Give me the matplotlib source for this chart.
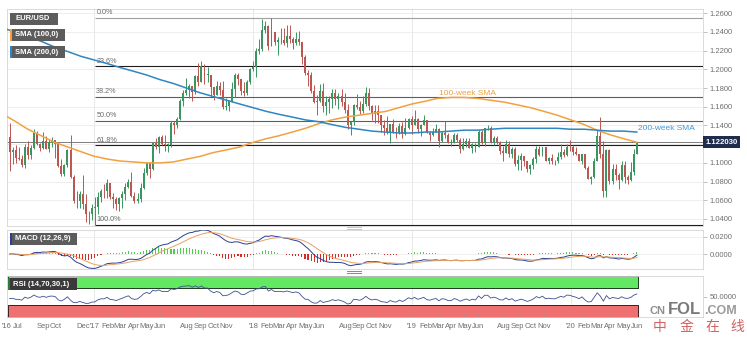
# -*- coding: utf-8 -*-
"""
EUR/USD weekly chart: candles + 100/200-week SMA + Fibonacci, MACD and RSI panels.
Output: out.png (747x338)
"""
import numpy as np
import pandas as pd
import matplotlib
matplotlib.use("Agg")
import matplotlib.pyplot as plt
import matplotlib.dates as mdates
from matplotlib.patches import Rectangle
from matplotlib.transforms import blended_transform_factory

plt.rcParams["font.family"] = ["Liberation Sans", "DejaVu Sans"]

W, H = 747, 338

# ---- weekly data, first week 2016-06-20 ----
first_open = 1.1275
close = [
    # 2016
    1.1115, 1.1136, 1.1052, 1.1042, 1.0976, 1.1174, 1.1086, 1.1161, 1.1325, 1.1198,
    1.1155, 1.1233, 1.1153, 1.1224, 1.1240, 1.1200, 1.0970, 1.0880, 1.0980, 1.1138,
    1.0850, 1.0590, 1.0590, 1.0665, 1.0560, 1.0450, 1.0455, 1.0520,
    # 2017
    1.0530, 1.0640, 1.0700, 1.0695, 1.0780, 1.0640, 1.0615, 1.0560, 1.0620, 1.0670,
    1.0740, 1.0800, 1.0650, 1.0590, 1.0615, 1.0730, 1.0895, 1.0995, 1.0930, 1.1210,
    1.1170, 1.1280, 1.1200, 1.1195, 1.1195, 1.1425, 1.1400, 1.1470, 1.1665, 1.1750,
    1.1775, 1.1820, 1.1760, 1.1925, 1.1860, 1.2035, 1.1945, 1.1945, 1.1815, 1.1730,
    1.1820, 1.1780, 1.1600, 1.1610, 1.1665, 1.1795, 1.1935, 1.1895, 1.1770, 1.1750,
    1.1860, 1.2005,
    # 2018
    1.2030, 1.2200, 1.2220, 1.2425, 1.2460, 1.2250, 1.2405, 1.2295, 1.2310, 1.2310,
    1.2285, 1.2355, 1.2320, 1.2280, 1.2330, 1.2290, 1.2130, 1.1960, 1.1940, 1.1770,
    1.1650, 1.1660, 1.1770, 1.1610, 1.1655, 1.1680, 1.1745, 1.1685, 1.1720, 1.1655,
    1.1570, 1.1410, 1.1440, 1.1620, 1.1600, 1.1555, 1.1625, 1.1750, 1.1605, 1.1525,
    1.1560, 1.1510, 1.1400, 1.1375, 1.1335, 1.1415, 1.1335, 1.1315, 1.1390, 1.1305,
    1.1370, 1.1465,
    # 2019
    1.1400, 1.1470, 1.1365, 1.1405, 1.1455, 1.1325, 1.1295, 1.1335, 1.1365, 1.1235,
    1.1325, 1.1300, 1.1215, 1.1215, 1.1295, 1.1245, 1.1150, 1.1200, 1.1235, 1.1160,
    1.1205, 1.1170, 1.1335, 1.1210, 1.1370, 1.1370, 1.1225, 1.1270, 1.1220, 1.1125,
    1.1110, 1.1200, 1.1090, 1.1145, 1.0990, 1.1030, 1.1075, 1.1015, 1.0940, 1.0975,
    1.1040, 1.1145, 1.1080, 1.1165, 1.1020, 1.1050, 1.1020, 1.1015, 1.1060, 1.1120,
    1.1080, 1.1175,
    # 2020
    1.1165, 1.1120, 1.1090, 1.1025, 1.1095, 1.0945, 1.0830, 1.0845, 1.1025, 1.1285,
    1.1100, 1.0695, 1.1140, 1.0805, 1.0935, 1.0875, 1.0820, 1.0980, 1.0845, 1.0820,
    1.0900, 1.1100, 1.12203,
]
high = [
    1.1428, 1.1165, 1.1187, 1.1165, 1.1080, 1.1200, 1.1235, 1.1189, 1.1366, 1.1343,
    1.1211, 1.1327, 1.1284, 1.1259, 1.1278, 1.1250, 1.1205, 1.1040, 1.0990, 1.1145,
    1.1300, 1.0870, 1.0700, 1.0700, 1.0875, 1.0670, 1.0490, 1.0560,
    1.0630, 1.0685, 1.0720, 1.0775, 1.0830, 1.0790, 1.0680, 1.0630, 1.0640, 1.0700,
    1.0780, 1.0830, 1.0900, 1.0690, 1.0680, 1.0780, 1.0950, 1.1000, 1.0980, 1.1215,
    1.1270, 1.1285, 1.1300, 1.1295, 1.1215, 1.1445, 1.1445, 1.1490, 1.1680, 1.1775,
    1.1910, 1.1845, 1.1800, 1.1940, 1.2070, 1.2090, 1.2060, 1.2030, 1.1945, 1.1790,
    1.1880, 1.1860, 1.1880, 1.1690, 1.1670, 1.1860, 1.1960, 1.1960, 1.1890, 1.1860,
    1.1890, 1.2020,
    1.2090, 1.2230, 1.2325, 1.2535, 1.2520, 1.2470, 1.2555, 1.2400, 1.2350, 1.2445,
    1.2445, 1.2475, 1.2475, 1.2345, 1.2395, 1.2415, 1.2295, 1.2150, 1.1995, 1.1970,
    1.1830, 1.1730, 1.1840, 1.1850, 1.1720, 1.1720, 1.1790, 1.1790, 1.1750, 1.1790,
    1.1745, 1.1630, 1.1445, 1.1625, 1.1735, 1.1660, 1.1720, 1.1815, 1.1800, 1.1620,
    1.1620, 1.1620, 1.1500, 1.1455, 1.1500, 1.1420, 1.1470, 1.1385, 1.1425, 1.1440,
    1.1485, 1.1480,
    1.1500, 1.1570, 1.1475, 1.1420, 1.1515, 1.1460, 1.1340, 1.1370, 1.1420, 1.1375,
    1.1340, 1.1450, 1.1325, 1.1255, 1.1325, 1.1325, 1.1265, 1.1265, 1.1265, 1.1265,
    1.1215, 1.1215, 1.1350, 1.1350, 1.1375, 1.1410, 1.1395, 1.1285, 1.1285, 1.1230,
    1.1185, 1.1250, 1.1235, 1.1165, 1.1165, 1.1085, 1.1110, 1.1075, 1.1025, 1.0990,
    1.1060, 1.1180, 1.1180, 1.1175, 1.1175, 1.1065, 1.1095, 1.1030, 1.1115, 1.1200,
    1.1150, 1.1200,
    1.1240, 1.1190, 1.1170, 1.1100, 1.1100, 1.1095, 1.0965, 1.0865, 1.1055, 1.1355,
    1.1495, 1.1235, 1.1150, 1.1150, 1.0990, 1.0990, 1.0890, 1.1020, 1.1020, 1.0875,
    1.1010, 1.1145, 1.1225,
]
low = [
    1.0912, 1.0990, 1.1000, 1.1030, 1.0952, 1.0950, 1.1045, 1.1045, 1.1150, 1.1190,
    1.1123, 1.1150, 1.1150, 1.1120, 1.1165, 1.1050, 1.0960, 1.0860, 1.0860, 1.0960,
    1.0840, 1.0570, 1.0520, 1.0520, 1.0505, 1.0366, 1.0350, 1.0390,
    1.0340, 1.0450, 1.0580, 1.0620, 1.0620, 1.0610, 1.0520, 1.0495, 1.0490, 1.0520,
    1.0600, 1.0730, 1.0640, 1.0570, 1.0570, 1.0580, 1.0725, 1.0870, 1.0840, 1.0920,
    1.1150, 1.1110, 1.1190, 1.1130, 1.1120, 1.1170, 1.1310, 1.1370, 1.1460, 1.1610,
    1.1730, 1.1690, 1.1660, 1.1740, 1.1820, 1.1880, 1.1840, 1.1860, 1.1715, 1.1670,
    1.1730, 1.1730, 1.1575, 1.1570, 1.1555, 1.1650, 1.1710, 1.1830, 1.1730, 1.1715,
    1.1730, 1.1840,
    1.1980, 1.1920, 1.2160, 1.2200, 1.2390, 1.2205, 1.2260, 1.2260, 1.2155, 1.2270,
    1.2260, 1.2240, 1.2280, 1.2215, 1.2260, 1.2260, 1.2055, 1.1940, 1.1820, 1.1750,
    1.1645, 1.1510, 1.1650, 1.1540, 1.1510, 1.1530, 1.1590, 1.1620, 1.1575, 1.1610,
    1.1530, 1.1365, 1.1300, 1.1400, 1.1580, 1.1525, 1.1530, 1.1610, 1.1570, 1.1460,
    1.1430, 1.1430, 1.1335, 1.1300, 1.1310, 1.1215, 1.1320, 1.1270, 1.1310, 1.1270,
    1.1300, 1.1360,
    1.1310, 1.1410, 1.1320, 1.1290, 1.1400, 1.1320, 1.1235, 1.1290, 1.1330, 1.1175,
    1.1220, 1.1270, 1.1210, 1.1180, 1.1210, 1.1225, 1.1110, 1.1135, 1.1175, 1.1155,
    1.1105, 1.1115, 1.1165, 1.1200, 1.1180, 1.1350, 1.1210, 1.1195, 1.1200, 1.1100,
    1.1025, 1.1105, 1.1065, 1.1050, 1.0965, 1.0925, 1.0925, 1.0965, 1.0905, 1.0880,
    1.0940, 1.0995, 1.1075, 1.1070, 1.1015, 1.0990, 1.0990, 1.0980, 1.1000, 1.1040,
    1.1065, 1.1070,
    1.1125, 1.1085, 1.1085, 1.1020, 1.0990, 1.0940, 1.0825, 1.0775, 1.0840, 1.1020,
    1.1055, 1.0635, 1.0640, 1.0770, 1.0770, 1.0815, 1.0725, 1.0810, 1.0780, 1.0775,
    1.0810, 1.0870, 1.1095,
]

# 100/200-week SMA, read at month starts (Jun 2016 .. Jun 2020)
sma_start = "2016-06-01"
sma100 = [
    1.153, 1.145, 1.136, 1.129, 1.122, 1.117, 1.112, 1.107, 1.104, 1.102,
    1.101, 1.100, 1.100, 1.101, 1.104, 1.107, 1.111, 1.114, 1.117, 1.122,
    1.126, 1.129, 1.133, 1.137, 1.142, 1.146, 1.149, 1.151, 1.153, 1.155,
    1.159, 1.163, 1.166, 1.169, 1.170, 1.170, 1.169, 1.167, 1.165, 1.162,
    1.159, 1.155, 1.151, 1.146, 1.141, 1.135, 1.130, 1.126, 1.122,
]
sma200 = [
    1.245, 1.240, 1.235, 1.230, 1.224, 1.219, 1.214, 1.210, 1.206, 1.202,
    1.198, 1.194, 1.189, 1.185, 1.180, 1.175, 1.171, 1.167, 1.163, 1.159,
    1.155, 1.152, 1.149, 1.146, 1.144, 1.141, 1.138, 1.136, 1.134, 1.133,
    1.132, 1.132, 1.133, 1.133, 1.134, 1.135, 1.135, 1.136, 1.137, 1.137,
    1.137, 1.137, 1.137, 1.136, 1.136, 1.135, 1.134, 1.134, 1.133,
]

# Fibonacci retracement between the Jan-2017 low and Feb-2018 high
fib_low, fib_high = 1.0340, 1.2555
fib_start = "2017-01-02"
fib_ratios = [0.0, 0.236, 0.382, 0.5, 0.618, 1.0]
fib_labels = ["0.0%", "23.6%", "38.2%", "50.0%", "61.8%", "100.0%"]
fib_colors = ["#a0a0a0", "#1e1e1e", "#5e5e5e", "#5e5e5e", "#1e1e1e", "#1e1e1e"]

# RSI warm-up: average weekly gain / loss before the first bar
rsi_seed_gain, rsi_seed_loss = 0.0060, 0.0062

tick_dates = [
    "2016-06-14", "2016-07-08", "2016-09-05", "2016-10-03", "2016-12-05",
    "2017-01-02", "2017-02-01", "2017-03-01", "2017-04-01", "2017-05-01", "2017-06-01",
    "2017-08-01", "2017-09-01", "2017-10-01", "2017-11-01",
    "2018-01-01", "2018-02-01", "2018-03-01", "2018-04-01", "2018-05-01", "2018-06-01",
    "2018-08-01", "2018-09-01", "2018-10-01", "2018-11-01",
    "2019-01-01", "2019-02-01", "2019-03-01", "2019-04-01", "2019-05-01", "2019-06-01",
    "2019-08-01", "2019-09-01", "2019-10-01", "2019-11-01",
    "2020-01-01", "2020-02-01", "2020-03-01", "2020-04-01", "2020-05-01", "2020-06-01",
]
tick_labels = [
    "'16", "Jul", "Sep", "Oct", "Dec",
    "'17", "Feb", "Mar", "Apr", "May", "Jun", "Aug", "Sep", "Oct", "Nov",
    "'18", "Feb", "Mar", "Apr", "May", "Jun", "Aug", "Sep", "Oct", "Nov",
    "'19", "Feb", "Mar", "Apr", "May", "Jun", "Aug", "Sep", "Oct", "Nov",
    "'20", "Feb", "Mar", "Apr", "May", "Jun",
]

# ---- derived series ----
c = pd.Series(close)
o = pd.Series([first_open] + close[:-1])
dates = pd.date_range("2016-06-20", periods=len(close), freq="7D")
x = mdates.date2num(dates)

ema12 = c.ewm(span=12, adjust=False).mean()
ema26 = c.ewm(span=26, adjust=False).mean()
macd = ema12 - ema26
signal = macd.ewm(span=9, adjust=False).mean()
hist = macd - signal

# Wilder RSI(14)
diff = np.diff(np.r_[first_open, close])
ag, al = rsi_seed_gain, rsi_seed_loss
rsi = []
for d in diff:
    ag = (ag * 13 + max(d, 0)) / 14
    al = (al * 13 + max(-d, 0)) / 14
    rsi.append(100 - 100 / (1 + ag / al))
rsi = np.array(rsi)

sma_dates = mdates.date2num(pd.date_range(sma_start, periods=len(sma100), freq="MS"))


def px(x0, y0, x1, y1):
    return [x0 / W, 1 - y1 / H, (x1 - x0) / W, (y1 - y0) / H]


fig = plt.figure(figsize=(W / 100, H / 100), dpi=100)
ax = fig.add_axes(px(7, 9, 703, 226))
ax_m = fig.add_axes(px(7, 230, 703, 269), sharex=ax)
ax_r = fig.add_axes(px(7, 276, 703, 317), sharex=ax)

xmin = mdates.date2num(pd.Timestamp("2016-06-17"))
xmax = mdates.date2num(pd.Timestamp("2020-10-31"))
year_lines = mdates.date2num(pd.to_datetime(["2017-01-01", "2018-01-01", "2019-01-01", "2020-01-01"]))

for a in (ax, ax_m, ax_r):
    for s in a.spines.values():
        s.set_color("#d4d4d4")
        s.set_linewidth(0.6)
    a.yaxis.tick_right()
    a.tick_params(axis="y", length=3, width=0.5, color="#aaaaaa", labelsize=5.5,
                  labelcolor="#6e6e6e", pad=2)
    for yl in year_lines:
        a.axvline(yl, color="#e4e4e4", lw=0.6, zorder=0)

# ---- price panel ----
ax.set_ylim(1.0325, 1.2646)
yt = np.round(np.arange(1.04, 1.2601, 0.02), 2)
ax.set_yticks(yt)
ax.set_yticklabels(["" if abs(v - 1.12) < 1e-9 else f"{v:.4f}" for v in yt])
ax.grid(axis="y", color="#ebebeb", lw=0.6, zorder=0)
ax.tick_params(axis="x", length=0, labelbottom=False)

# candles
up = c >= o
col = np.where(up, "#3a9560", "#bb5750")
lo_w = np.minimum.reduce([np.array(low), o.values, c.values])
hi_w = np.maximum.reduce([np.array(high), o.values, c.values])
ax.vlines(x, lo_w, hi_w, colors=col, lw=0.7, zorder=3)
body_lo = np.minimum(o, c)
body_h = np.maximum(np.abs(c - o), 0.0004)
ax.bar(x, body_h, bottom=body_lo, width=4.5, color=col, lw=0, zorder=4)

ax.plot(sma_dates, sma100, color="#f2a13e", lw=1.1, zorder=5)
ax.plot(sma_dates, sma200, color="#2f86c0", lw=1.1, zorder=5)

fx0 = mdates.date2num(pd.Timestamp(fib_start))
for r, lab, fc in zip(fib_ratios, fib_labels, fib_colors):
    lvl = fib_high - r * (fib_high - fib_low)
    ax.hlines(lvl, fx0, xmax, color=fc, lw=0.8, zorder=2)
    ax.annotate(lab, (fx0, lvl), xytext=(1, 1.2), textcoords="offset points",
                fontsize=5.2, color="#6a6a6a", va="bottom", ha="left")

last = close[-1]
ax.axhline(last, color="#4a4a4a", lw=0.5, zorder=2)
tr = blended_transform_factory(ax.transAxes, ax.transData)
ax.text(1.004, last, f"{last:.6f}", transform=tr, fontsize=5.6, fontweight="bold",
        color="white", va="center", ha="left", zorder=10, clip_on=False,
        bbox=dict(boxstyle="square,pad=0.3", fc="#1f2c4c", ec="none"))

ax.text(mdates.date2num(pd.Timestamp("2019-03-04")), 1.1745, "100-week SMA",
        fontsize=6, color="#eea23f", va="center", ha="left", zorder=6)
ax.text(mdates.date2num(pd.Timestamp("2020-06-03")), 1.1372, "200-week SMA",
        fontsize=6, color="#3d9bd8", va="center", ha="left", zorder=6)

# ---- MACD panel ----
ax_m.set_ylim(-0.0176, 0.0282)
ax_m.set_yticks([0.0, 0.02])
ax_m.set_yticklabels(["0.0000", "0.0200"])
ax_m.grid(axis="y", color="#ededed", lw=0.6, zorder=0)
ax_m.tick_params(axis="x", length=0, labelbottom=False)
ax_m.bar(x, hist, width=2.5, color=np.where(hist >= 0, "#49d149", "#d62a22"), lw=0, zorder=2)
ax_m.plot(x, macd, color="#2b3f91", lw=0.7, zorder=3)
ax_m.plot(x, signal, color="#e8a062", lw=0.7, zorder=3)

# ---- RSI panel ----
ax_r.set_ylim(-1, 101)
ax_r.set_yticks([50])
ax_r.set_yticklabels(["50.0000"])
band_x = [x[0] - 4, x[-1] + 1.5]
ax_r.fill_between(band_x, 70, 100, color="#62e862", ec="#1f3a1f", lw=0.7, zorder=1)
ax_r.fill_between(band_x, 0, 30, color="#ef7070", ec="#3a1f1f", lw=0.7, zorder=1)
ax_r.plot(x, rsi, color="#3b4f93", lw=0.6, zorder=3)

ax_r.set_xlim(xmin, xmax)
ax_r.set_xticks(mdates.date2num(pd.to_datetime(tick_dates)))
ax_r.set_xticklabels(tick_labels)
ax_r.tick_params(axis="x", direction="in", length=2, width=0.5, color="#999999",
                 labelsize=5.5, labelcolor="#6e6e6e", pad=4)


# ---- legend boxes ----
def tag(x0, y0, x1, y1, text, stripe=None, fc="#5c5c5c"):
    fig.add_artist(Rectangle(px(x0, y0, x1, y1)[:2], (x1 - x0) / W, (y1 - y0) / H,
                             transform=fig.transFigure, fc=fc, ec="none", zorder=20))
    if stripe:
        fig.add_artist(Rectangle(px(x0, y0, x0 + 2, y1)[:2], 2 / W, (y1 - y0) / H,
                                 transform=fig.transFigure, fc=stripe, ec="none", zorder=21))
    fig.text((x0 + 5) / W, 1 - (y0 + y1) / 2 / H, text, fontsize=5.5, fontweight="bold",
             color="white", va="center", ha="left", zorder=22)


tag(10, 13, 58, 25, "EUR/USD")
tag(10, 29, 65, 41, "SMA (100,0)", stripe="#f2a13e")
tag(10, 46, 65, 58, "SMA (200,0)", stripe="#2f86c0")
tag(10, 233, 77, 245, "MACD (12,26,9)", stripe="#2b3f91")
tag(8, 278, 77, 290, "RSI (14,70,30,1)", stripe="#2e7d32", fc="#3a3a3a")

# panel drag handles
for hy, hc in ((227, "#c8c8c8"), (271, "#8c8c8c")):
    fig.add_artist(Rectangle(px(347, hy, 362, hy + 1)[:2], 15 / W, 1 / H,
                             transform=fig.transFigure, fc=hc, ec="none"))
    fig.add_artist(Rectangle(px(347, hy + 2, 362, hy + 3)[:2], 15 / W, 1 / H,
                             transform=fig.transFigure, fc=hc, ec="none"))

# watermark
fig.text(650 / W, 1 - 311 / H, "CN", fontsize=8, fontweight="bold", color="#8e8e8e", va="center")
fig.text(668 / W, 1 - 309 / H, "FOL", fontsize=12, fontweight="bold", color="#7a7a7a", va="center")
fig.text(704 / W, 1 - 311 / H, ".COM", fontsize=9, fontweight="bold", color="#9a9a9a", va="center")
for cx, ch in zip([660, 687, 712, 737], "中金在线"):
    fig.text(cx / W, 1 - 327 / H, ch, fontsize=10, color="#c84646", alpha=0.85,
             ha="center", va="center", family=["Noto Sans CJK SC", "DejaVu Sans"])

fig.savefig("out.png", dpi=100, facecolor="white")
